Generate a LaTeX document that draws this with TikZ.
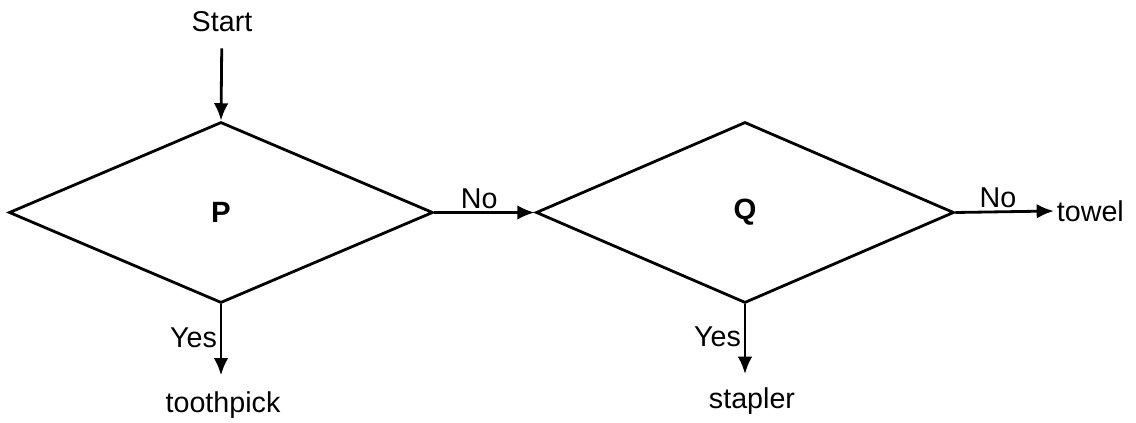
\documentclass[tikz,border=0pt]{standalone}
\usepackage{fontspec}
\setmainfont{Liberation Sans}
\usepackage{tikz}
\usetikzlibrary{arrows.meta}
\usetikzlibrary{shapes.geometric}
\tikzset{dec/.style = {draw, diamond, inner sep = 0, line width = 2.1, font = \fontsize{22}{26}\selectfont\bfseries}}
\tikzset{lbl/.style = {inner sep = 2}}
\tikzset{flow/.style = {-{Latex[length = 13, width = 11]}, line width = 2.1}}

\begin{document}
\begin{tikzpicture}[x = 0.75pt, y = -0.75pt, font = \fontsize{21.5}{25}\selectfont]
    \useasboundingbox (0, 0) rectangle (1136, 423);
    \node [lbl] (start) at (222, 22) {Start};
    \node [dec, minimum width = 318, minimum height = 135.75] (P) at (221, 212.5) {P};
    \node [dec, minimum width = 313.5, minimum height = 135.75] (Q) at (745, 212.5) {Q};
    \node [lbl, anchor = west] (towel) at (1054, 211) {towel};
    \node [lbl] (toothpick) at (223, 405) {toothpick};
    \node [lbl] (stapler) at (752, 401) {stapler};

    \draw [flow, shorten < = 10] (start) -- (P.north);
    \draw [flow] (P.east) -- node [lbl, above, xshift = -4] (no1) {No} (Q.west);
    \draw [flow] (Q.east) -- node [lbl, above, xshift = -5] (no2) {No} (towel.west);
    \draw [flow, shorten > = 10] (P.south) -- node [lbl, left, pos = 0.4] (yes1) {Yes} (P.south |- toothpick.north);
    \draw [flow, shorten > = 8] (Q.south) -- node [lbl, left, pos = 0.4] (yes2) {Yes} (Q.south |- stapler.north);
  \end{tikzpicture}
\end{document}
